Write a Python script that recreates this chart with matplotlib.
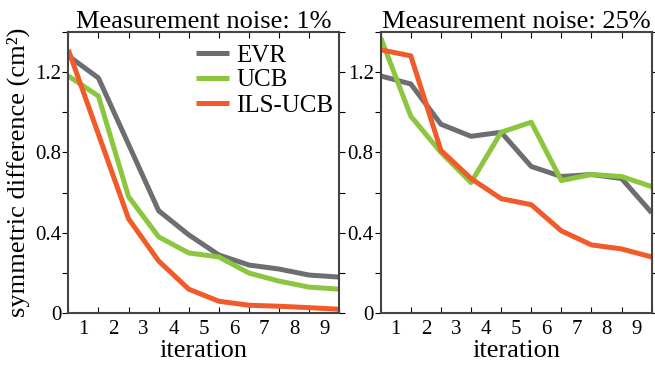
import matplotlib
matplotlib.use("Agg")
import matplotlib.pyplot as plt
import numpy as np

# iteration index (points sit on the tick marks, labels between them)
iters = np.arange(10)
iter_labels = ["1", "2", "3", "4", "5", "6", "7", "8", "9"]

# Measurement noise: 1%
evr_1 = [1.28, 1.17, 0.84, 0.51, 0.39, 0.29, 0.24, 0.22, 0.19, 0.18]
ucb_1 = [1.18, 1.08, 0.58, 0.38, 0.30, 0.28, 0.20, 0.16, 0.13, 0.12]
ils_1 = [1.31, 0.89, 0.47, 0.26, 0.12, 0.06, 0.04, 0.035, 0.028, 0.02]

# Measurement noise: 25%
evr_25 = [1.18, 1.14, 0.94, 0.88, 0.90, 0.73, 0.68, 0.69, 0.67, 0.50]
ucb_25 = [1.37, 0.98, 0.80, 0.65, 0.90, 0.95, 0.66, 0.69, 0.68, 0.63]
ils_25 = [1.31, 1.28, 0.81, 0.67, 0.57, 0.54, 0.41, 0.34, 0.32, 0.28]

titles = ["Measurement noise: 1%", "Measurement noise: 25%"]
series_names = ["EVR", "UCB", "ILS-UCB"]
colors = ["#6d6e71", "#8cc63f", "#f15a29"]

plt.rcParams["font.family"] = ["Liberation Serif", "DejaVu Serif"]

fig = plt.figure(figsize=(6.55, 3.66), dpi=100)
ax1 = fig.add_axes([0.1043, 0.144, 0.4137, 0.7694])
ax2 = fig.add_axes([0.5812, 0.144, 0.4137, 0.7694])

data = [[evr_1, ucb_1, ils_1], [evr_25, ucb_25, ils_25]]

for ax, title, rows in zip([ax1, ax2], titles, data):
    for vals, name, c in zip(rows, series_names, colors):
        ax.plot(iters, vals, color=c, lw=3.6, label=name, solid_capstyle="butt")
    ax.set_xlim(0, 9)
    ax.set_ylim(0, 1.4)
    ax.set_title(title, fontsize=19, pad=3)
    ax.set_xlabel("iteration", fontsize=19)
    ax.xaxis.set_label_coords(0.5, -0.095)

    # x: tick marks at points, labels in between
    ax.set_xticks(iters)
    ax.set_xticklabels([])
    ax.set_xticks(iters[:-1] + 0.5, minor=True)
    ax.set_xticklabels(iter_labels, minor=True)
    ax.tick_params(axis="x", which="major", direction="in", length=4,
                   top=True, bottom=True, width=0.8)
    ax.tick_params(axis="x", which="minor", length=0, labelsize=15, pad=5)

    # y: ticks every 0.2, labels every 0.4
    yt = np.arange(0, 1.41, 0.2)
    ax.set_yticks(yt)
    ax.set_yticklabels(["0", "", "0.4", "", "0.8", "", "1.2", ""])
    ax.tick_params(axis="y", direction="out", length=4, left=True, right=True,
                   labelsize=15, pad=1, width=0.8)
    for sp in ax.spines.values():
        sp.set_color("#444444")
        sp.set_linewidth(1.5)

ax1.set_ylabel("symmetric difference (cm²)", fontsize=19, labelpad=4)

ax1.legend(loc="upper left", bbox_to_anchor=(196 / 655, 1 - 44 / 366),
           bbox_transform=fig.transFigure, frameon=False, fontsize=18,
           handlelength=1.3, handletextpad=0.3, labelspacing=0.1,
           borderpad=0, borderaxespad=0)

fig.savefig("out.png", dpi=100)
